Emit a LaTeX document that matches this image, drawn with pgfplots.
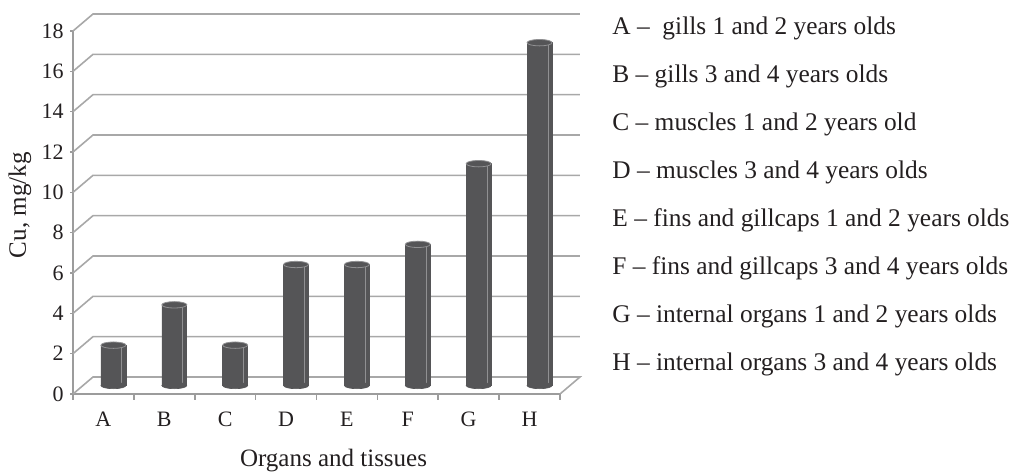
\documentclass[border=0pt]{standalone}
\usepackage{fontspec}
\setmainfont{Liberation Serif}
\usepackage{pgfplots}
\pgfplotsset{compat=1.18}
\usepackage{pgfplotstable}

\definecolor{barfill}{HTML}{555557}
\definecolor{gridc}{HTML}{A8A8A8}
\definecolor{axisc}{HTML}{9C9C9C}
\definecolor{txt}{HTML}{231F20}
\definecolor{shine}{HTML}{909092}

% copper content per organ group (x = slot centre, b = base, v = value)
\pgfplotstableread{
x   b  v
0.5 0  2
1.5 0  4
2.5 0  2
3.5 0  6
4.5 0  6
5.5 0  7
6.5 0  11
7.5 0  17
}\cutable

% elliptical cap used for the cylinder top and bottom
\pgfdeclareplotmark{cylcap}{%
  \pgfpathellipse{\pgfpointorigin}{\pgfqpoint{6.25pt}{0pt}}{\pgfqpoint{0pt}{1.6pt}}%
  \pgfusepathqfillstroke}

\begin{document}
\begin{tikzpicture}
\path[use as bounding box] (0,0) rectangle (509.5pt,236.5pt);

% front plane: axes, ticks and the receding wall grid
\begin{axis}[
  at={(36.5pt,39.5pt)}, anchor=south west,
  scale only axis, width=243.5pt, height=181.5pt,
  xmin=0, xmax=8, ymin=0, ymax=18,
  axis x line*=bottom, axis y line*=left,
  axis line style={draw=axisc, line width=0.8pt},
  xtick={0.5,1.5,...,7.5}, xticklabels={A,B,C,D,E,F,G,H},
  ytick={0,2,...,18},
  xtick style={draw=none},
  ytick style={draw=axisc, line width=0.8pt},
  tick align=outside, major tick length=1.5pt,
  tick label style={font=\fontsize{11pt}{13pt}\selectfont, text=txt},
  /pgf/number format/assume math mode=true,
  yticklabel style={inner sep=0pt, xshift=-3pt},
  xticklabel style={anchor=north, inner sep=0pt, yshift=-7.5pt},
  xlabel={Organs and tissues}, ylabel={Cu, mg/kg},
  label style={font=\fontsize{12.5pt}{14pt}\selectfont, text=txt},
  xlabel style={at={(axis description cs:0.535,-0.201)}, anchor=base},
  ylabel style={at={(axis description cs:-0.109,0.52)}, anchor=center, rotate=0},
  clip=false,
]
\addplot[draw=gridc, line width=0.8pt, unbounded coords=jump, mark=none] coordinates {
  (8,0) (8.3285,0.843) (0.3285,0.843) (0,0) (nan,nan)
  (0,2) (0.3285,2.843) (8.3285,2.843) (nan,nan)
  (0,4) (0.3285,4.843) (8.3285,4.843) (nan,nan)
  (0,6) (0.3285,6.843) (8.3285,6.843) (nan,nan)
  (0,8) (0.3285,8.843) (8.3285,8.843) (nan,nan)
  (0,10) (0.3285,10.843) (8.3285,10.843) (nan,nan)
  (0,12) (0.3285,12.843) (8.3285,12.843) (nan,nan)
  (0,14) (0.3285,14.843) (8.3285,14.843) (nan,nan)
  (0,16) (0.3285,16.843) (8.3285,16.843) (nan,nan)
  (0,18) (0.3285,18.843) (8.3285,18.843)
};
% category boundary ticks below the floor edge
\addplot[ycomb, draw=axisc, line width=0.8pt, mark=none] coordinates {
  (0,-0.3) (1,-0.3) (2,-0.3) (3,-0.3) (4,-0.3) (5,-0.3) (6,-0.3) (7,-0.3) (8,-0.3)
};
\end{axis}

% middle depth plane: the cylinders
\begin{axis}[
  at={(41.5pt,43.75pt)}, anchor=south west,
  scale only axis, width=243.5pt, height=181.5pt,
  xmin=0, xmax=8, ymin=0, ymax=18,
  hide axis, clip=false,
]
\addplot[only marks, mark=cylcap, mark options={fill=barfill, draw=barfill, line width=0.3pt}]
  table[x=x, y=b] {\cutable};
\addplot[ybar, bar width=0.41, fill=barfill, draw=barfill, line width=0.3pt]
  table[x=x, y=v] {\cutable};
\addplot[ycomb, draw=shine, line width=0.5pt, mark=none]
  table[x expr=\thisrow{x}+0.14, y expr=\thisrow{v}-0.08] {\cutable};
\addplot[only marks, mark=cylcap, mark options={fill=barfill, draw=shine, line width=0.4pt}]
  table[x=x, y=v] {\cutable};
\end{axis}

% key to the category letters
\begin{scope}[every node/.style={anchor=base west, inner sep=0pt, text=txt,
    font=\fontsize{12.7pt}{15pt}\selectfont}]
  \node at (306pt,219.5pt) {A --\ \ gills 1 and 2 years olds};
  \node at (306pt,195.5pt) {B -- gills 3 and 4 years olds};
  \node at (306pt,171.5pt) {C -- muscles 1 and 2 years old};
  \node at (306pt,147.5pt) {D -- muscles 3 and 4 years olds};
  \node at (306pt,123.5pt) {E -- fins and gillcaps 1 and 2 years olds};
  \node at (306pt,99.5pt)  {F -- fins and gillcaps 3 and 4 years olds};
  \node at (306pt,75.5pt)  {G -- internal organs 1 and 2 years olds};
  \node at (306pt,51.5pt)  {H -- internal organs 3 and 4 years olds};
\end{scope}
\end{tikzpicture}
\end{document}
